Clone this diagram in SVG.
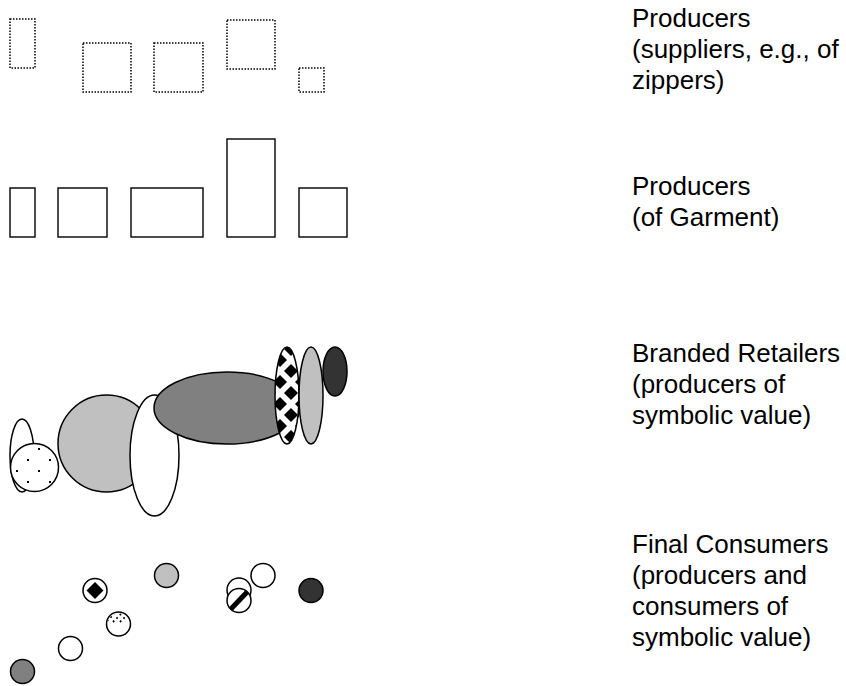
<svg xmlns="http://www.w3.org/2000/svg" width="846" height="686" viewBox="0 0 846 686">
<style>
.dot{fill:none;stroke:#000;stroke-width:1.5;stroke-dasharray:1.5 1.5}
.box{fill:#fff;stroke:#000;stroke-width:1.4}
.sh{stroke:#000;stroke-width:1.5}
.lbl{font-family:"Liberation Sans",Arial,Helvetica,sans-serif;font-size:26px;fill:#000}
</style>
<defs>
<pattern id="checker" patternUnits="userSpaceOnUse" x="280" y="360" width="22" height="22">
<rect width="22" height="22" fill="#fff"/>
<polygon points="11,4 18,11 11,18 4,11" fill="#000"/>
<polygon points="0,-7 7,0 0,7 -7,0" fill="#000"/>
<polygon points="22,-7 29,0 22,7 15,0" fill="#000"/>
<polygon points="0,15 7,22 0,29 -7,22" fill="#000"/>
<polygon points="22,15 29,22 22,29 15,22" fill="#000"/>
</pattern>
<pattern id="dots" patternUnits="userSpaceOnUse" x="11" y="443" width="22" height="22">
<rect width="22" height="22" fill="#fff"/>
<rect x="5" y="5" width="2" height="2" fill="#000"/>
<rect x="16" y="16" width="2" height="2" fill="#000"/>
</pattern>
<clipPath id="cStripe"><circle cx="239" cy="600.5" r="12"/></clipPath>
<clipPath id="cConf"><circle cx="118.5" cy="624" r="11"/></clipPath>
</defs>

<g id="suppliers">
<rect id="s1" class="dot" x="10" y="19" width="25" height="49"/>
<rect id="s2" class="dot" x="83" y="43" width="48" height="49"/>
<rect id="s3" class="dot" x="154" y="43" width="49" height="49"/>
<rect id="s4" class="dot" x="227" y="20" width="48" height="49"/>
<rect id="s5" class="dot" x="299" y="68" width="25" height="24"/>
</g>

<g id="garment">
<rect id="g1" class="box" x="10" y="188" width="25" height="49"/>
<rect id="g2" class="box" x="58" y="188" width="49" height="49"/>
<rect id="g3" class="box" x="131" y="188" width="72" height="49"/>
<rect id="g4" class="box" x="227" y="139" width="48" height="98"/>
<rect id="g5" class="box" x="299" y="188" width="48" height="49"/>
</g>

<g id="retailers">
<ellipse id="r1" class="sh" cx="22" cy="455.5" rx="12" ry="36.5" fill="#fff"/>
<circle id="r2" class="sh" cx="34.5" cy="467.5" r="24" fill="url(#dots)"/>
<circle id="r3" class="sh" cx="106.5" cy="443.5" r="48.5" fill="#c0c0c0"/>
<ellipse id="r4" class="sh" cx="154.5" cy="455.5" rx="24.5" ry="60.5" fill="#fff"/>
<ellipse id="r5" class="sh" cx="227" cy="408" rx="73" ry="36" fill="#808080"/>
<ellipse id="r6" class="sh" cx="287" cy="395.5" rx="12" ry="48.5" fill="url(#checker)"/>
<ellipse id="r7" class="sh" cx="311" cy="395.5" rx="12" ry="48.5" fill="#c0c0c0"/>
<ellipse id="r8" class="sh" cx="335" cy="371.5" rx="12" ry="24.5" fill="#333"/>
</g>

<g id="consumers">
<g id="c1">
<circle class="sh" cx="95" cy="590.5" r="12" fill="#fff"/>
<polygon points="95,582 103.5,590.5 95,599 86.5,590.5" fill="#000"/>
</g>
<circle id="c2" class="sh" cx="166.5" cy="575.5" r="12" fill="#c0c0c0"/>
<g id="c3">
<circle cx="118.5" cy="624" r="12" fill="#fff"/>
<g clip-path="url(#cConf)" stroke="#000" stroke-width="1.8" stroke-dasharray="1.8 3">
<line x1="107" y1="621" x2="114" y2="614"/>
<line x1="113" y1="622" x2="121" y2="614"/>
<line x1="120" y1="622" x2="128" y2="614"/>
</g>
<circle class="sh" cx="118.5" cy="624" r="12" fill="none"/>
</g>
<circle id="c4" class="sh" cx="70.5" cy="648.5" r="12" fill="#fff"/>
<circle id="c5" class="sh" cx="22.5" cy="671.5" r="12" fill="#808080"/>
<circle id="c6" class="sh" cx="239" cy="590" r="12" fill="#fff"/>
<g id="c7">
<circle cx="239" cy="600.5" r="12" fill="#fff"/>
<line clip-path="url(#cStripe)" x1="229" y1="611" x2="249" y2="590" stroke="#000" stroke-width="5"/>
<circle class="sh" cx="239" cy="600.5" r="12" fill="none"/>
</g>
<circle id="c8" class="sh" cx="263" cy="575.5" r="12" fill="#fff"/>
<circle id="c9" class="sh" cx="311" cy="590.5" r="12" fill="#333"/>
</g>

<g id="labels">
<text class="lbl" x="632"><tspan x="632" y="27">Producers</tspan><tspan x="632" y="58">(suppliers, e.g., of</tspan><tspan x="632" y="89">zippers)</tspan></text>
<text class="lbl" x="632"><tspan x="632" y="195">Producers</tspan><tspan x="632" y="226">(of Garment)</tspan></text>
<text class="lbl" x="632"><tspan x="632" y="362">Branded Retailers</tspan><tspan x="632" y="393">(producers of</tspan><tspan x="632" y="424">symbolic value)</tspan></text>
<text class="lbl" x="632"><tspan x="632" y="553">Final Consumers</tspan><tspan x="632" y="584">(producers and</tspan><tspan x="632" y="615">consumers of</tspan><tspan x="632" y="646">symbolic value)</tspan></text>
</g>
</svg>
